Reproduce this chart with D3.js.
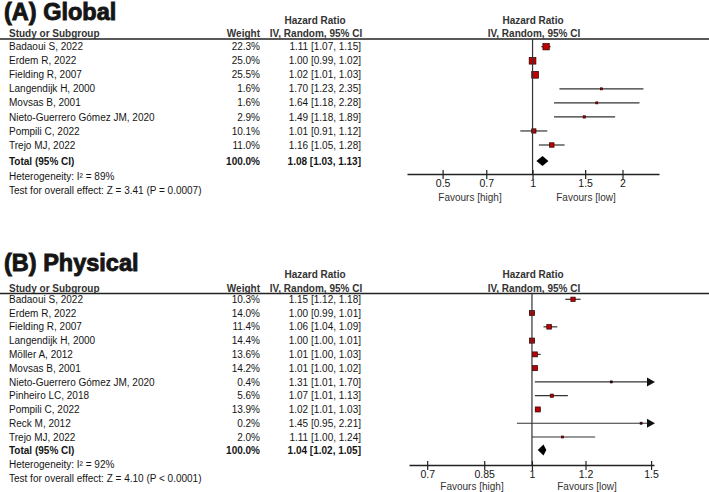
<!DOCTYPE html>
<html>
<head>
<meta charset="utf-8">
<script src="https://cdn.jsdelivr.net/npm/d3@7"></script>
<style>
  html, body { margin: 0; padding: 0; background: #fff; }
  svg { display: block; }
  text { font-family: "Liberation Sans", Arial, sans-serif; fill: #151515; }
</style>
</head>
<body>
<svg id="chart" width="709" height="492"></svg>
<script>
// ---------- Panel A: Global ----------
const studiesA = ["Badaoui S, 2022", "Erdem R, 2022", "Fielding R, 2007", "Langendijk H, 2000",
  "Movsas B, 2001", "Nieto-Guerrero Gómez JM, 2020", "Pompili C, 2022", "Trejo MJ, 2022"];
const weightsA = [22.3, 25.0, 25.5, 1.6, 1.6, 2.9, 10.1, 11.0];
const hrA   = [1.11, 1.00, 1.02, 1.70, 1.64, 1.49, 1.01, 1.16];
const lowA  = [1.07, 0.99, 1.01, 1.23, 1.18, 1.18, 0.91, 1.05];
const highA = [1.15, 1.02, 1.03, 2.35, 2.28, 1.89, 1.12, 1.28];
const totalA = [1.08, 1.03, 1.13];
const ticksA = [0.5, 0.7, 1, 1.5, 2];
const tickLabelsA = ["0.5", "0.7", "1", "1.5", "2"];
const hetA = "Heterogeneity: I² = 89%";
const testA = "Test for overall effect: Z = 3.41 (P = 0.0007)";

// ---------- Panel B: Physical ----------
const studiesB = ["Badaoui S, 2022", "Erdem R, 2022", "Fielding R, 2007", "Langendijk H, 2000",
  "Möller A, 2012", "Movsas B, 2001", "Nieto-Guerrero Gómez JM, 2020", "Pinheiro LC, 2018",
  "Pompili C, 2022", "Reck M, 2012", "Trejo MJ, 2022"];
const weightsB = [10.3, 14.0, 11.4, 14.4, 13.6, 14.2, 0.4, 5.6, 13.9, 0.2, 2.0];
const hrB   = [1.15, 1.00, 1.06, 1.00, 1.01, 1.01, 1.31, 1.07, 1.02, 1.45, 1.11];
const lowB  = [1.12, 0.99, 1.04, 1.00, 1.00, 1.00, 1.01, 1.01, 1.01, 0.95, 1.00];
const highB = [1.18, 1.01, 1.09, 1.01, 1.03, 1.02, 1.70, 1.13, 1.03, 2.21, 1.24];
const totalB = [1.04, 1.02, 1.05];
const ticksB = [0.7, 0.85, 1, 1.2, 1.5];
const tickLabelsB = ["0.7", "0.85", "1", "1.2", "1.5"];
const hetB = "Heterogeneity: I² = 92%";
const testB = "Test for overall effect: Z = 4.10 (P < 0.0001)";

const svg = d3.select("#chart");
const f2 = d3.format(".2f");
const f1 = d3.format(".1f");

function drawPanel(cfg) {
  const g = svg.append("g");
  const n = cfg.studies.length;
  const x = d3.scaleLog().domain(cfg.domain).range(cfg.range);
  const y = d3.scaleLinear().domain([0, n - 1]).range([cfg.row0, cfg.rowN]);
  const fs = 10;

  // Title
  g.append("text").attr("x", 4).attr("y", cfg.titleY)
    .attr("font-size", 23.5).attr("font-weight", "bold")
    .style("stroke", "#151515").style("stroke-width", 0.9)
    .text(cfg.title);

  // Headers
  const hdr = (t, xx, yy, anchor) => g.append("text").attr("x", xx).attr("y", yy)
    .attr("font-size", fs).attr("font-weight", "bold").attr("text-anchor", anchor).style("fill", "#333").text(t);
  hdr("Hazard Ratio", 315, cfg.hdr1, "middle");
  hdr("Hazard Ratio", 533, cfg.hdr1, "middle");
  hdr("Study or Subgroup", 9, cfg.hdr2, "start");
  hdr("Weight", 260, cfg.hdr2, "end");
  hdr("IV, Random, 95% CI", 316, cfg.hdr2, "middle");
  hdr("IV, Random, 95% CI", 534, cfg.hdr2, "middle");

  // Header rule
  g.append("line").attr("x1", 0).attr("x2", 709).attr("y1", cfg.lineY).attr("y2", cfg.lineY)
    .attr("stroke", "#222").attr("stroke-width", 1.4);

  // Rows text
  const rows = g.selectAll("g.row").data(d3.range(n)).join("g").attr("class", "row");
  rows.append("text").attr("x", 9).attr("y", i => y(i) + 3.6).attr("font-size", fs)
    .text(i => cfg.studies[i]);
  rows.append("text").attr("x", 260).attr("y", i => y(i) + 3.6).attr("font-size", fs).attr("text-anchor", "end")
    .text(i => f1(cfg.weights[i]) + "%");
  rows.append("text").attr("x", 361).attr("y", i => y(i) + 3.6).attr("font-size", fs).attr("text-anchor", "end")
    .text(i => `${f2(cfg.hr[i])} [${f2(cfg.low[i])}, ${f2(cfg.high[i])}]`);

  // Total
  g.append("text").attr("x", 9).attr("y", cfg.totalY + 3.6).attr("font-size", fs).attr("font-weight", "bold").text("Total (95% CI)");
  g.append("text").attr("x", 260).attr("y", cfg.totalY + 3.6).attr("font-size", fs).attr("font-weight", "bold")
    .attr("text-anchor", "end").text("100.0%");
  g.append("text").attr("x", 361).attr("y", cfg.totalY + 3.6).attr("font-size", fs).attr("font-weight", "bold")
    .attr("text-anchor", "end").text(`${f2(cfg.total[0])} [${f2(cfg.total[1])}, ${f2(cfg.total[2])}]`);
  g.append("text").attr("x", 9).attr("y", cfg.hetY + 3.6).attr("font-size", fs).text(cfg.het);
  g.append("text").attr("x", 9).attr("y", cfg.testY + 3.6).attr("font-size", fs).text(cfg.test);

  // Vertical null line
  g.append("line").attr("x1", x(1)).attr("x2", x(1)).attr("y1", cfg.lineY).attr("y2", cfg.axisY)
    .attr("stroke", "#333").attr("stroke-width", 1.2);

  // CI lines
  const [dLo, dHi] = cfg.domain;
  const xMax = cfg.range[1];
  const arrowLen = 8;
  rows.append("line")
    .attr("x1", i => x(Math.max(cfg.low[i], dLo)))
    .attr("x2", i => cfg.high[i] > dHi ? xMax - arrowLen + 1 : x(cfg.high[i]))
    .attr("y1", i => y(i)).attr("y2", i => y(i))
    .attr("stroke", "#333").attr("stroke-width", 1.2);
  rows.filter(i => cfg.high[i] > dHi).append("path")
    .attr("d", i => `M${xMax + 1},${y(i)} L${xMax + 1 - arrowLen},${y(i) - 4.5} L${xMax + 1 - arrowLen},${y(i) + 4.5} Z`)
    .attr("fill", "#111");

  // Squares
  const side = i => Math.max(2, 1.35 * Math.sqrt(cfg.weights[i]));
  rows.append("rect")
    .attr("x", i => x(cfg.hr[i]) - side(i) / 2)
    .attr("y", i => y(i) - side(i) / 2)
    .attr("width", side)
    .attr("height", side)
    .attr("fill", i => cfg.weights[i] < 1 ? "#300" : "#c00000")
    .attr("stroke", "#2a0000").attr("stroke-width", 0.7);

  // Diamond
  const dh = cfg.diamondH;
  g.append("path")
    .attr("d", `M${x(cfg.total[1])},${cfg.totalY} L${x(cfg.total[0])},${cfg.totalY - dh} L${x(cfg.total[2])},${cfg.totalY} L${x(cfg.total[0])},${cfg.totalY + dh} Z`)
    .attr("fill", "#000");

  // Axis
  const axis = d3.axisBottom(x).tickValues(cfg.ticks).tickFormat((d, i) => cfg.tickLabels[i])
    .tickSize(4).tickSizeOuter(0);
  const ag = g.append("g").attr("transform", `translate(0,${cfg.axisY})`).call(axis);
  ag.select(".domain").attr("stroke", "#222").attr("stroke-width", 1.4);
  ag.selectAll(".tick line").attr("y1", -4).attr("y2", 5).attr("stroke", "#222").attr("stroke-width", 1.2);
  ag.selectAll(".tick text").attr("y", 6).attr("dy", "0.71em")
    .attr("font-size", 10.5).attr("font-family", "Liberation Sans, Arial, sans-serif").style("fill", "#151515");

  // Favours
  g.append("text").attr("x", cfg.favHighX).attr("y", cfg.favY).attr("font-size", fs).attr("text-anchor", "middle")
    .style("fill", "#333").text("Favours [high]");
  g.append("text").attr("x", cfg.favLowX).attr("y", cfg.favY).attr("font-size", fs).attr("text-anchor", "middle")
    .style("fill", "#333").text("Favours [low]");
}

drawPanel({
  title: "(A) Global", titleY: 19.5,
  studies: studiesA, weights: weightsA, hr: hrA, low: lowA, high: highA, total: totalA,
  ticks: ticksA, tickLabels: tickLabelsA, het: hetA, test: testA,
  domain: [0.38, 2.65], range: [407, 659],
  hdr1: 24, hdr2: 37, lineY: 39, row0: 46.7, rowN: 145, totalY: 161, hetY: 176, testY: 190,
  axisY: 174, favY: 200.5, favHighX: 470, favLowX: 586, diamondH: 5
});

drawPanel({
  title: "(B) Physical", titleY: 271,
  studies: studiesB, weights: weightsB, hr: hrB, low: lowB, high: highB, total: totalB,
  ticks: ticksB, tickLabels: tickLabelsB, het: hetB, test: testB,
  domain: [0.658, 1.515], range: [409, 654],
  hdr1: 278, hdr2: 291.5, lineY: 293.5, row0: 299.3, rowN: 437, totalY: 450, hetY: 464, testY: 478,
  axisY: 465, favY: 489.5, favHighX: 472, favLowX: 587, diamondH: 5.5
});
</script>
</body>
</html>
